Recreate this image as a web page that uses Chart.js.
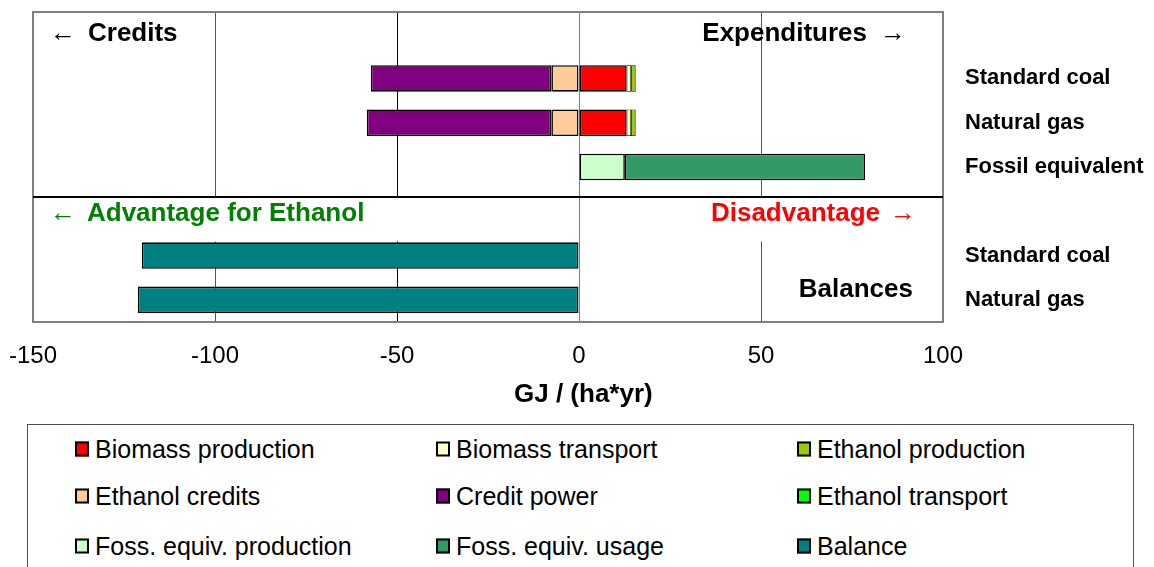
<!DOCTYPE html>
<html>
<head>
<meta charset="utf-8">
<script src="https://cdn.jsdelivr.net/npm/chart.js@4/dist/chart.umd.min.js"></script>
<style>
html,body{margin:0;padding:0;background:#fff;width:1154px;height:567px;overflow:hidden;font-family:"Liberation Sans",Arial,sans-serif;}
#wrap{position:relative;width:1154px;height:567px;}
#c{position:absolute;left:0;top:0;}
#legend{position:absolute;left:27px;top:424px;width:1107px;height:170px;border:1px solid #505050;box-sizing:border-box;background:#fff;}
.item{position:absolute;display:flex;align-items:center;transform:translateY(-50%);font-size:25px;color:#000;white-space:nowrap;}
.mk{width:10px;height:11px;border:2px solid #000;margin-right:6px;flex:none;}
</style>
</head>
<body>
<div id="wrap">
<canvas id="c" width="1154" height="567"></canvas>
<div id="legend"></div>
</div>
<script>
// ---- data ----
const categories = ["", "Standard coal", "Natural gas", "Fossil equivalent", "", "Standard coal", "Natural gas"];
const biomassProduction   = [null, 13.1, 13.1, null, null, null, null];
const biomassTransport    = [null, 1.2, 1.2, null, null, null, null];
const ethanolProduction   = [null, 1.2, 1.2, null, null, null, null];
const ethanolCredits      = [null, -7.6, -7.6, null, null, null, null];
const creditPower         = [null, -49.6, -50.7, null, null, null, null];
const ethanolTransport    = [null, 0.2, 0.2, null, null, null, null];
const fossEquivProduction = [null, null, null, 12.6, null, null, null];
const fossEquivUsage      = [null, null, null, 66.0, null, null, null];
const balance             = [null, null, null, null, null, -120.1, -121.2];
const xTickValues = [-150, -100, -50, 0, 50, 100];
const seriesNames = ["Biomass production", "Biomass transport", "Ethanol production",
                     "Ethanol credits", "Credit power", "Ethanol transport",
                     "Foss. equiv. production", "Foss. equiv. usage", "Balance"];
const seriesColors = ["#FF0000", "#FFFFCC", "#99CC00", "#FFCC99", "#800080", "#00FF00",
                      "#CCFFCC", "#339966", "#008080"];
const seriesData = [biomassProduction, biomassTransport, ethanolProduction, ethanolCredits,
                    creditPower, ethanolTransport, fossEquivProduction, fossEquivUsage, balance];
const thinSeries = ["Biomass transport", "Ethanol production", "Ethanol transport"];

const FONT = '"Liberation Sans", Arial, sans-serif';

const datasets = seriesNames.map((n, i) => ({
  label: n,
  data: seriesData[i],
  backgroundColor: seriesColors[i],
  borderColor: "#000",
  borderWidth: thinSeries.includes(n) ? 0.8 : 1.6,
  borderSkipped: false,
  barPercentage: 0.6,
  categoryPercentage: 1.0
}));

const annot = {
  id: 'annot',
  beforeDatasetsDraw(chart) {
    const {ctx, chartArea: a, scales: {x, y}} = chart;
    const divY = y.getPixelForValue(3.68);
    const lowTop = y.getPixelForValue(5) - 14;
    ctx.save();
    ctx.fillStyle = '#fff';
    ctx.fillRect(a.left + 1, divY + 1, x.getPixelForValue(-48) - a.left - 1, lowTop - divY - 1);
    ctx.fillRect(x.getPixelForValue(33), divY + 1, a.right - x.getPixelForValue(33) - 1, lowTop - divY - 1);
    ctx.restore();
  },
  afterDraw(chart) {
    const {ctx, chartArea: a, scales: {x, y}} = chart;
    const divY = y.getPixelForValue(3.68);
    ctx.save();
    // frame
    ctx.strokeStyle = '#808080';
    ctx.lineWidth = 2;
    ctx.strokeRect(a.left, a.top, a.right - a.left, a.bottom - a.top);
    // divider
    ctx.strokeStyle = '#000';
    ctx.lineWidth = 2;
    ctx.beginPath(); ctx.moveTo(a.left, divY); ctx.lineTo(a.right, divY); ctx.stroke();
    // texts
    ctx.textBaseline = 'middle';
    const topY = y.getPixelForValue(0);
    const advY = y.getPixelForValue(4) + 3;
    ctx.fillStyle = '#000';
    ctx.font = '26px ' + FONT;
    ctx.textAlign = 'left';
    ctx.fillText('\u2190', a.left + 17, topY);
    ctx.font = 'bold 26px ' + FONT;
    ctx.fillText('Credits', a.left + 55, topY);
    ctx.textAlign = 'right';
    ctx.fillText('Expenditures', a.right - 76, topY);
    ctx.font = '26px ' + FONT;
    ctx.textAlign = 'left';
    ctx.fillText('\u2192', a.right - 63, topY);
    // advantage
    ctx.fillStyle = '#008000';
    ctx.fillText('\u2190', a.left + 17, advY);
    ctx.font = 'bold 26px ' + FONT;
    ctx.fillText('Advantage for Ethanol', a.left + 54, advY);
    ctx.fillStyle = '#FF0000';
    ctx.textAlign = 'right';
    ctx.fillText('Disadvantage', a.right - 63, advY);
    ctx.font = '26px ' + FONT;
    ctx.textAlign = 'left';
    ctx.fillText('\u2192', a.right - 53, advY);
    // balances
    ctx.fillStyle = '#000';
    ctx.font = 'bold 26px ' + FONT;
    ctx.textAlign = 'right';
    ctx.fillText('Balances', a.right - 30, y.getPixelForValue(5.78));
    // axis title
    ctx.textAlign = 'center';
    ctx.fillText('GJ / (ha*yr)', x.getPixelForValue(1.2), a.bottom + 73);
    ctx.restore();
  }
};

new Chart(document.getElementById('c'), {
  type: 'bar',
  data: { labels: categories, datasets },
  options: {
    indexAxis: 'y',
    responsive: false,
    animation: false,
    devicePixelRatio: 1,
    layout: { padding: { left: 33, top: 12, right: 0, bottom: 0 } },
    plugins: { legend: { display: false }, tooltip: { enabled: false } },
    scales: {
      x: {
        type: 'linear', min: -150, max: 100, stacked: true, position: 'bottom',
        afterBuildTicks: s => { s.ticks = xTickValues.map(v => ({ value: v })); },
        ticks: { font: { size: 24, family: FONT }, color: '#000', padding: 20, maxRotation: 0, autoSkip: false },
        grid: {
          drawTicks: false, lineWidth: 1,
          color: c => {
            const v = c.tick ? c.tick.value : null;
            if (v === -150 || v === 100) return 'rgba(0,0,0,0)';
            if (v === 0) return '#808080';
            if (v === -50) return '#000';
            return '#555';
          }
        },
        border: { display: false },
        afterFit: s => { s.height = 245; s.paddingLeft = 0; s.paddingRight = 0; }
      },
      y: {
        type: 'category', position: 'right', stacked: true,
        grid: { display: false, drawTicks: false }, border: { display: false },
        ticks: { font: { size: 22, weight: 'bold', family: FONT }, color: '#000', padding: 22, autoSkip: false },
        afterFit: s => { s.width = 211; s.paddingTop = 0; s.paddingBottom = 0; }
      }
    }
  },
  plugins: [annot]
});

// HTML legend built from the series arrays
const lg = document.getElementById('legend');
const rowTops = [24, 71, 121];
seriesNames.forEach((n, i) => {
  const col = i % 3, row = Math.floor(i / 3);
  const d = document.createElement('div');
  d.className = 'item';
  d.style.left = (47 + col * 361) + 'px';
  d.style.top = rowTops[row] + 'px';
  const m = document.createElement('span');
  m.className = 'mk';
  m.style.background = seriesColors[i];
  const t = document.createElement('span');
  t.textContent = n;
  d.appendChild(m); d.appendChild(t);
  lg.appendChild(d);
});
</script>
</body>
</html>
